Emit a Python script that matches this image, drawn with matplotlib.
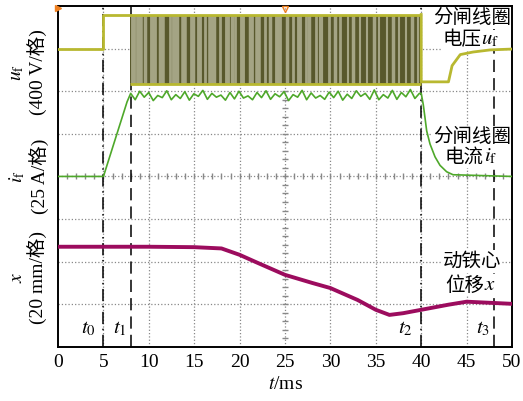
import matplotlib
matplotlib.use("Agg")
import matplotlib.pyplot as plt
import numpy as np

plt.rcParams['font.family'] = ['Liberation Serif', 'Noto Sans CJK SC']
plt.rcParams['mathtext.fontset'] = 'stix'

# time axis in ms, traces in scope divisions (8 divisions high)
uf_pre_t = [0, 5.0, 5.0, 7.9]
uf_pre_v = [7.0, 7.0, 7.79, 7.79]
uf_post_t = [40.0, 40.0, 43.0, 43.4, 44.3, 45.7, 47.6, 50.0]
uf_post_v = [7.8, 6.22, 6.22, 6.6, 6.86, 6.92, 6.97, 6.99]
pwm_start, pwm_end = 7.9, 40.0
pwm_high, pwm_low = 7.8, 6.17
pwm_light = [8.3, 8.7, 9.0, 9.6, 10.3, 10.7, 11.2, 11.5, 12.3, 12.8, 13.1,
             13.9, 14.6, 14.9, 15.5, 16.2, 16.9, 17.2, 17.8, 18.6, 19.2, 19.5,
             20.3, 21.1, 21.4, 22.0, 22.8, 23.3, 24.1, 24.4, 25.2, 25.9, 26.5,
             27.3, 27.6, 28.4, 29.0, 29.8, 30.5, 31.0, 31.9, 32.5, 33.3, 34.0,
             34.8, 35.3, 36.2, 36.9, 37.6, 38.3, 39.0, 39.6]
pwm_width = [3.5, 2.0, 4.0, 2.5, 3.5, 2.0, 2.5, 4.0, 2.0, 3.5, 2.5,
             4.0, 2.0, 2.5, 3.5, 2.0, 4.0, 2.5, 2.0, 3.5, 2.5, 2.0,
             3.5, 2.5, 2.0, 4.0, 2.0, 2.5, 3.5, 2.0, 2.5, 2.0, 3.5,
             2.0, 2.5, 2.0, 3.0, 2.0, 2.5, 2.0, 1.5, 2.5, 1.5, 1.5,
             2.5, 1.5, 1.5, 2.5, 1.5, 1.5, 2.5, 1.5]

if_rise_t = [0, 5.0, 7.6]
if_rise_v = [4.0, 4.0, 5.75]
if_flat_v = [5.95, 5.80, 6.00, 5.86, 5.97, 5.78, 5.90, 5.85, 6.01, 5.80, 5.92,
             5.83, 5.99, 5.79, 5.94, 5.88, 6.02, 5.81, 5.95, 5.86, 5.91, 5.79,
             5.97, 5.82, 6.00, 5.84, 5.89, 5.80, 5.97, 5.85, 6.01, 5.81, 5.94,
             5.87, 5.99, 5.78, 5.92, 5.86, 6.02, 5.80, 5.96, 5.84, 5.90, 5.81,
             5.98, 5.85, 6.00, 5.79, 5.93, 5.83, 6.01, 5.88, 5.95, 5.81, 6.03,
             5.80, 5.92, 5.84, 6.02, 5.81, 5.97, 5.87, 6.04, 5.83, 5.95]
if_fall_t = [40.0, 40.23, 40.42, 40.6, 40.97, 41.52, 42.07, 42.8, 43.5, 50.0]
if_fall_v = [5.95, 5.68, 5.37, 5.07, 4.76, 4.46, 4.26, 4.11, 4.04, 4.0]

x_t = [0, 5, 10, 15, 18, 20, 22, 25, 28, 30, 33, 35, 36.5, 38, 40, 43, 45, 48, 50]
x_v = [2.35, 2.35, 2.35, 2.34, 2.31, 2.16, 1.97, 1.69, 1.5, 1.38, 1.1, 0.87,
       0.75, 0.79, 0.87, 0.99, 1.06, 1.03, 1.01]

marks = [5, 8, 40, 48]
mark_styles = [(0, (8, 3, 1, 3)), (0, (8, 4)), (0, (8, 3, 1, 3)), (0, (8, 4))]
mark_labels = [r'$t_0$', r'$t_1$', r'$t_2$', r'$t_3$']
mark_label_x = [3.3, 6.8, 38.2, 46.8]

c_u = '#b8b830'
c_i = '#4ea82a'
c_x = '#9c0c5e'

fig = plt.figure(figsize=(5.23, 4.01), dpi=100)
ax = fig.add_axes([0.111, 0.135, 0.868, 0.85])
ax.set_xlim(0, 50)
ax.set_ylim(0, 8)

# scope grid
for gx in range(5, 50, 5):
    ax.axvline(gx, color='#888888', ls=':', lw=0.9, zorder=0)
for gy in range(1, 8):
    ax.axhline(gy, color='#888888', ls=':', lw=0.9, zorder=0)
ax.plot(np.full(39, 25), np.arange(0.2, 8, 0.2), ls='none', marker='_',
        ms=4, color='#888888', zorder=0)
ax.plot(np.arange(1, 50, 1), np.full(49, 4), ls='none', marker='|',
        ms=4, color='#888888', zorder=0)

# instants
for m, st in zip(marks, mark_styles):
    ax.axvline(m, color='black', ls=st, lw=1.1, zorder=1.5)

# uf trace
ax.fill_between([pwm_start, pwm_end], pwm_low, pwm_high, color='#58582c', lw=0, zorder=3)
ax.vlines(pwm_light, pwm_low, pwm_high, color='#a4a484', lw=pwm_width, zorder=3)
ax.hlines([pwm_high, pwm_low], pwm_start, pwm_end, color=c_u, lw=2, zorder=3)
ax.plot(uf_pre_t, uf_pre_v, color=c_u, lw=2, zorder=3)
ax.plot(uf_post_t, uf_post_v, color=c_u, lw=2, zorder=3)
ax.plot([0], [7.96], marker='>', ms=4, color='#f08020', clip_on=False, zorder=5)
ax.plot([25], [7.93], marker='v', ms=5, mfc='none', mec='#f08020', clip_on=False, zorder=5)

# if and x traces
if_t = if_rise_t + list(np.linspace(8.0, 39.8, len(if_flat_v))) + if_fall_t
if_v = if_rise_v + if_flat_v + if_fall_v
ax.plot(if_t, if_v, color=c_i, lw=1.2, zorder=3)
ax.plot(x_t, x_v, color=c_x, lw=2.8, zorder=3)

# right-hand trace names: CJK part and math part drawn separately
box = dict(facecolor='white', edgecolor='none', pad=0.5)
cjk_kw = dict(fontsize=14, va='center', family='Noto Sans CJK SC', zorder=2, bbox=box)
math_kw = dict(fontsize=15, va='center', zorder=2, bbox=box)
names = [('分闸线圈', '电压', r'$u_\mathrm{f}$', 7.72, 7.2, 46.6),
         ('分闸线圈', '电流', r'$i_\mathrm{f}$', 4.93, 4.46, 46.9),
         ('动铁心', '位移', r'$x$', 2.0, 1.45, 46.9)]
for top, cjk, sym, y1, y2, xs in names:
    ax.text(45.6, y1, top, ha='center', **cjk_kw)
    ax.text(xs, y2, cjk, ha='right', **cjk_kw)
    ax.text(xs, y2, sym, ha='left', **math_kw)

for lx, lab in zip(mark_label_x, mark_labels):
    ax.text(lx, 0.42, lab, fontsize=15, ha='center', va='center', zorder=2,
            bbox=dict(facecolor='white', edgecolor='none', pad=0.3))

ytr = ax.get_yaxis_transform()
ylab_kw = dict(fontsize=14, rotation=90, ha='center', va='center',
               multialignment='center', linespacing=1.1, transform=ytr)
ax.text(-0.066, 6.45, '$u_\\mathrm{f}$\n(400 V/格)', **ylab_kw)
ax.text(-0.066, 4.0, '$i_\\mathrm{f}$\n(25 A/格)', **ylab_kw)
ax.text(-0.066, 1.62, '$x$\n(20 mm/格)', **ylab_kw)

ax.set_xticks(range(0, 51, 5))
ax.set_yticks([])
ax.tick_params(axis='x', length=0, pad=5, labelsize=14)
ax.set_xlabel('$t$/ms', fontsize=14, labelpad=4)
for sp in ax.spines.values():
    sp.set_linewidth(1.4)

fig.savefig('out.png', dpi=100)
